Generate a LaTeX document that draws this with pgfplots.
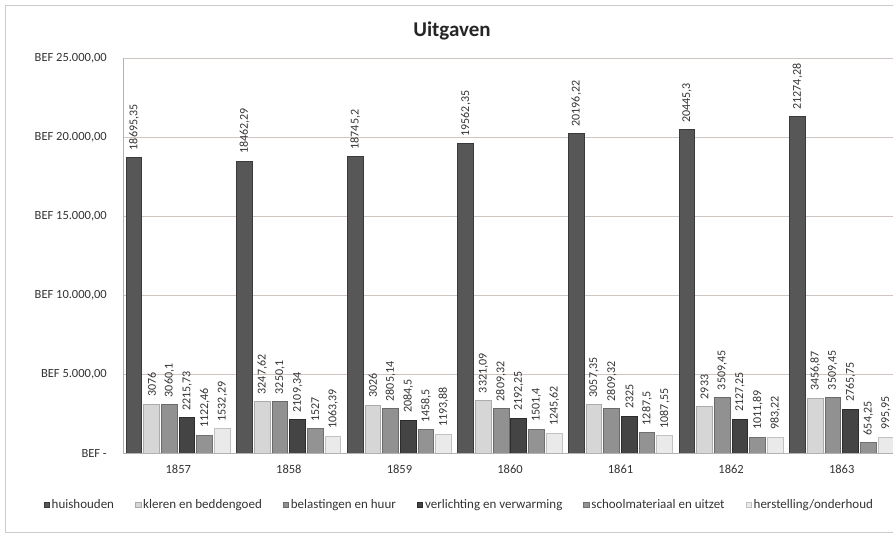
\documentclass[border=0pt]{standalone}
\usepackage{pgfplots}
\pgfplotsset{compat=1.18}
\usepackage{fontspec}
\setmainfont{Carlito}
\definecolor{txt}{HTML}{333333}
\definecolor{gridc}{HTML}{CFC6C2}
\definecolor{framec}{HTML}{CBCBCB}
\definecolor{hhE}{HTML}{3A3A3A}\definecolor{hhM}{HTML}{575757}
\definecolor{klE}{HTML}{ABABAB}\definecolor{klM}{HTML}{D6D6D6}
\definecolor{beE}{HTML}{6A6A6A}\definecolor{beM}{HTML}{919191}
\definecolor{veE}{HTML}{2C2C2C}\definecolor{veM}{HTML}{444444}
\definecolor{scE}{HTML}{707070}\definecolor{scM}{HTML}{939393}
\definecolor{heE}{HTML}{C2C2C2}\definecolor{heM}{HTML}{EAEAEA}
\begin{document}
\begin{tikzpicture}
\path[use as bounding box] (0,0) rectangle (893bp,535bp);
\draw[framec, line width=1bp] (5bp,2bp) rectangle (915bp,529bp);
\begin{axis}[
  at={(123bp,82bp)}, anchor=south west,
  scale only axis, width=774bp, height=395bp,
  xmin=-0.5, xmax=6.5, ymin=0, ymax=25000,
  ybar, bar width=0.142,
  axis lines=left, axis line style={-, draw=gray!60},
  ytick={0,5000,10000,15000,20000,25000},
  yticklabels={{BEF -\hspace{6bp}},{BEF 5.000,00},{BEF 10.000,00},{BEF 15.000,00},{BEF 20.000,00},{BEF 25.000,00}},
  scaled y ticks=false,
  ymajorgrids, major grid style={gridc, line width=0.8bp},
  xtick={0,1,2,3,4,5,6},
  xticklabels={1857,1858,1859,1860,1861,1862,1863},
  major tick length=0pt,
  /pgf/number format/assume math mode=true,
  tick label style={font=\fontsize{12.5bp}{14bp}\selectfont, text=txt},
  yticklabel style={inner sep=0pt, xshift=-16bp},
  xticklabel style={inner sep=0pt, yshift=-12bp},
  nodes near coords, point meta=explicit symbolic,
  every node near coord/.append style={rotate=90, anchor=west, font=\fontsize{12bp}{14bp}\selectfont, text=txt, inner xsep=7bp, inner ysep=0pt},
  legend columns=6,
  legend style={at={(0.4345,-0.1316)}, anchor=center, draw=none, fill=none,
    font=\fontsize{13bp}{15bp}\selectfont, text=txt,
    /tikz/every even column/.append style={column sep=19bp}},
  legend image code/.code={\filldraw[#1, line width=0.6bp] (0bp,-2.5bp) rectangle (5.5bp,3bp);},
]
\addplot[draw=hhE, fill=hhM, line width=1bp, bar shift=-0.40] table[meta=l] {
x y l
0 18695.35 18695,35
1 18462.29 18462,29
2 18745.2 18745,2
3 19562.35 19562,35
4 20196.22 20196,22
5 20445.3 20445,3
6 21274.28 21274,28
};
\addlegendentry{huishouden}
\addplot[draw=klE, fill=klM, line width=1bp, bar shift=-0.24] table[meta=l] {
x y l
0 3076 3076
1 3247.62 3247,62
2 3026 3026
3 3321.09 3321,09
4 3057.35 3057,35
5 2933 2933
6 3456.87 3456,87
};
\addlegendentry{kleren en beddengoed}
\addplot[draw=beE, fill=beM, line width=1bp, bar shift=-0.08] table[meta=l] {
x y l
0 3060.1 3060,1
1 3250.1 3250,1
2 2805.14 2805,14
3 2809.32 2809,32
4 2809.32 2809,32
5 3509.45 3509,45
6 3509.45 3509,45
};
\addlegendentry{belastingen en huur}
\addplot[draw=veE, fill=veM, line width=1bp, bar shift=0.08] table[meta=l] {
x y l
0 2215.73 2215,73
1 2109.34 2109,34
2 2084.5 2084,5
3 2192.25 2192,25
4 2325 2325
5 2127.25 2127,25
6 2765.75 2765,75
};
\addlegendentry{verlichting en verwarming}
\addplot[draw=scE, fill=scM, line width=1bp, bar shift=0.24] table[meta=l] {
x y l
0 1122.46 1122,46
1 1527 1527
2 1458.5 1458,5
3 1501.4 1501,4
4 1287.5 1287,5
5 1011.89 1011,89
6 654.25 654,25
};
\addlegendentry{schoolmateriaal en uitzet}
\addplot[draw=heE, fill=heM, line width=1bp, bar shift=0.40] table[meta=l] {
x y l
0 1532.29 1532,29
1 1063.39 1063,39
2 1193.88 1193,88
3 1245.62 1245,62
4 1087.55 1087,55
5 983.22 983,22
6 995.95 995,95
};
\addlegendentry{herstelling/onderhoud}
\end{axis}
\node[font=\bfseries\fontsize{21bp}{24bp}\selectfont, text={rgb,255:red,38;green,38;blue,38}] at (452bp,504bp) {Uitgaven};
\end{tikzpicture}
\end{document}
